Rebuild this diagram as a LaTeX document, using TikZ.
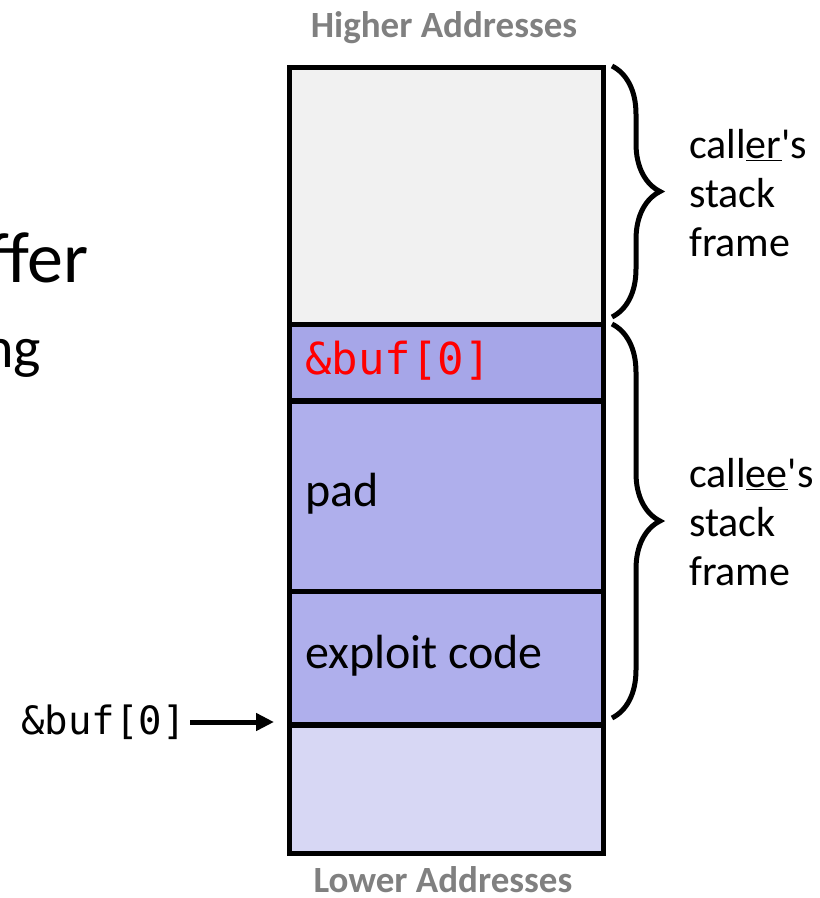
\documentclass[tikz,border=0pt]{standalone}
\usepackage{fontspec}
\setmainfont{Carlito}
\setmonofont{DejaVu Sans Mono}
\usetikzlibrary{arrows.meta,decorations.pathreplacing}
\definecolor{topcol}{RGB}{241,241,241}
\definecolor{bufcol}{RGB}{166,166,232}
\definecolor{padcol}{RGB}{175,175,236}
\definecolor{lowcol}{RGB}{215,215,244}
\definecolor{addrgray}{RGB}{128,128,128}
\definecolor{redtxt}{RGB}{255,0,0}
\tikzset{
  block/.style={draw=black, line width=5.5pt, rectangle, inner sep=0pt, anchor=north west, minimum width=314pt},
  celltxt/.style={anchor=west, inner sep=0pt, font=\fontsize{48}{56}\selectfont},
  monotxt/.style={anchor=west, inner sep=0pt, font=\fontsize{44}{52}\selectfont\ttfamily, text=redtxt},
  addr/.style={inner sep=0pt, text=addrgray, font=\fontsize{37}{44}\selectfont\bfseries},
  side/.style={anchor=west, inner sep=0pt, align=left, font=\fontsize{42}{49}\selectfont},
  bigtxt/.style={anchor=base east, inner sep=0pt},
  bracestyle/.style={decorate, decoration={brace, amplitude=48pt}, line width=5pt},
  ptr/.style={line width=5pt, -{Triangle[length=18pt,width=17pt]}}
}
\begin{document}
\begin{tikzpicture}[x=1pt,y=-1pt]
\useasboundingbox (0,0) rectangle (820,898);
% partial text at left
\node[bigtxt, font=\fontsize{72}{84}\selectfont] (ffer) at (89,282) {ffer};
\node[bigtxt, font=\fontsize{58}{68}\selectfont] (ng) at (41,367) {ng};
% stack blocks
\node[block, fill=topcol, minimum height=257pt] (top) at (286.5,64.5) {};
\node[block, fill=bufcol, minimum height=76.5pt] (buf) at (286.5,321.5) {};
\node[block, fill=padcol, minimum height=190.5pt] (pad) at (286.5,398) {};
\node[block, fill=padcol, minimum height=133.5pt] (expl) at (286.5,588.5) {};
\node[block, fill=lowcol, minimum height=128.5pt] (low) at (286.5,722) {};
% cell texts
\node[monotxt] (buftxt) at (305,361) {\&buf[0]};
\node[celltxt] (padtxt) at (305,494) {pad};
\node[celltxt] (expltxt) at (305,656) {exploit code};
% addresses
\node[addr] (hi) at (444,28) {Higher Addresses};
\node[addr] (lo) at (443,880) {Lower Addresses};
% braces
\coordinate (b1s) at (612,66);
\coordinate (b1e) at (612,317);
\coordinate (b2s) at (612,324);
\coordinate (b2e) at (612,718);
\draw[bracestyle] (b1s) -- (b1e);
\draw[bracestyle] (b2s) -- (b2e);
\node[side] (caller) at (689,193) {call\underline{er}\textquotesingle s\\stack\\frame};
\node[side] (callee) at (689,522) {call\underline{ee}\textquotesingle s\\stack\\frame};
% pointer
\node[anchor=east, inner sep=4pt, font=\fontsize{39}{46}\selectfont\ttfamily] (ptrlbl) at (190,722) {\&buf[0]};
\coordinate (ptrtip) at (274,722);
\draw[ptr] (ptrlbl) -- (ptrtip);
\end{tikzpicture}
\end{document}
